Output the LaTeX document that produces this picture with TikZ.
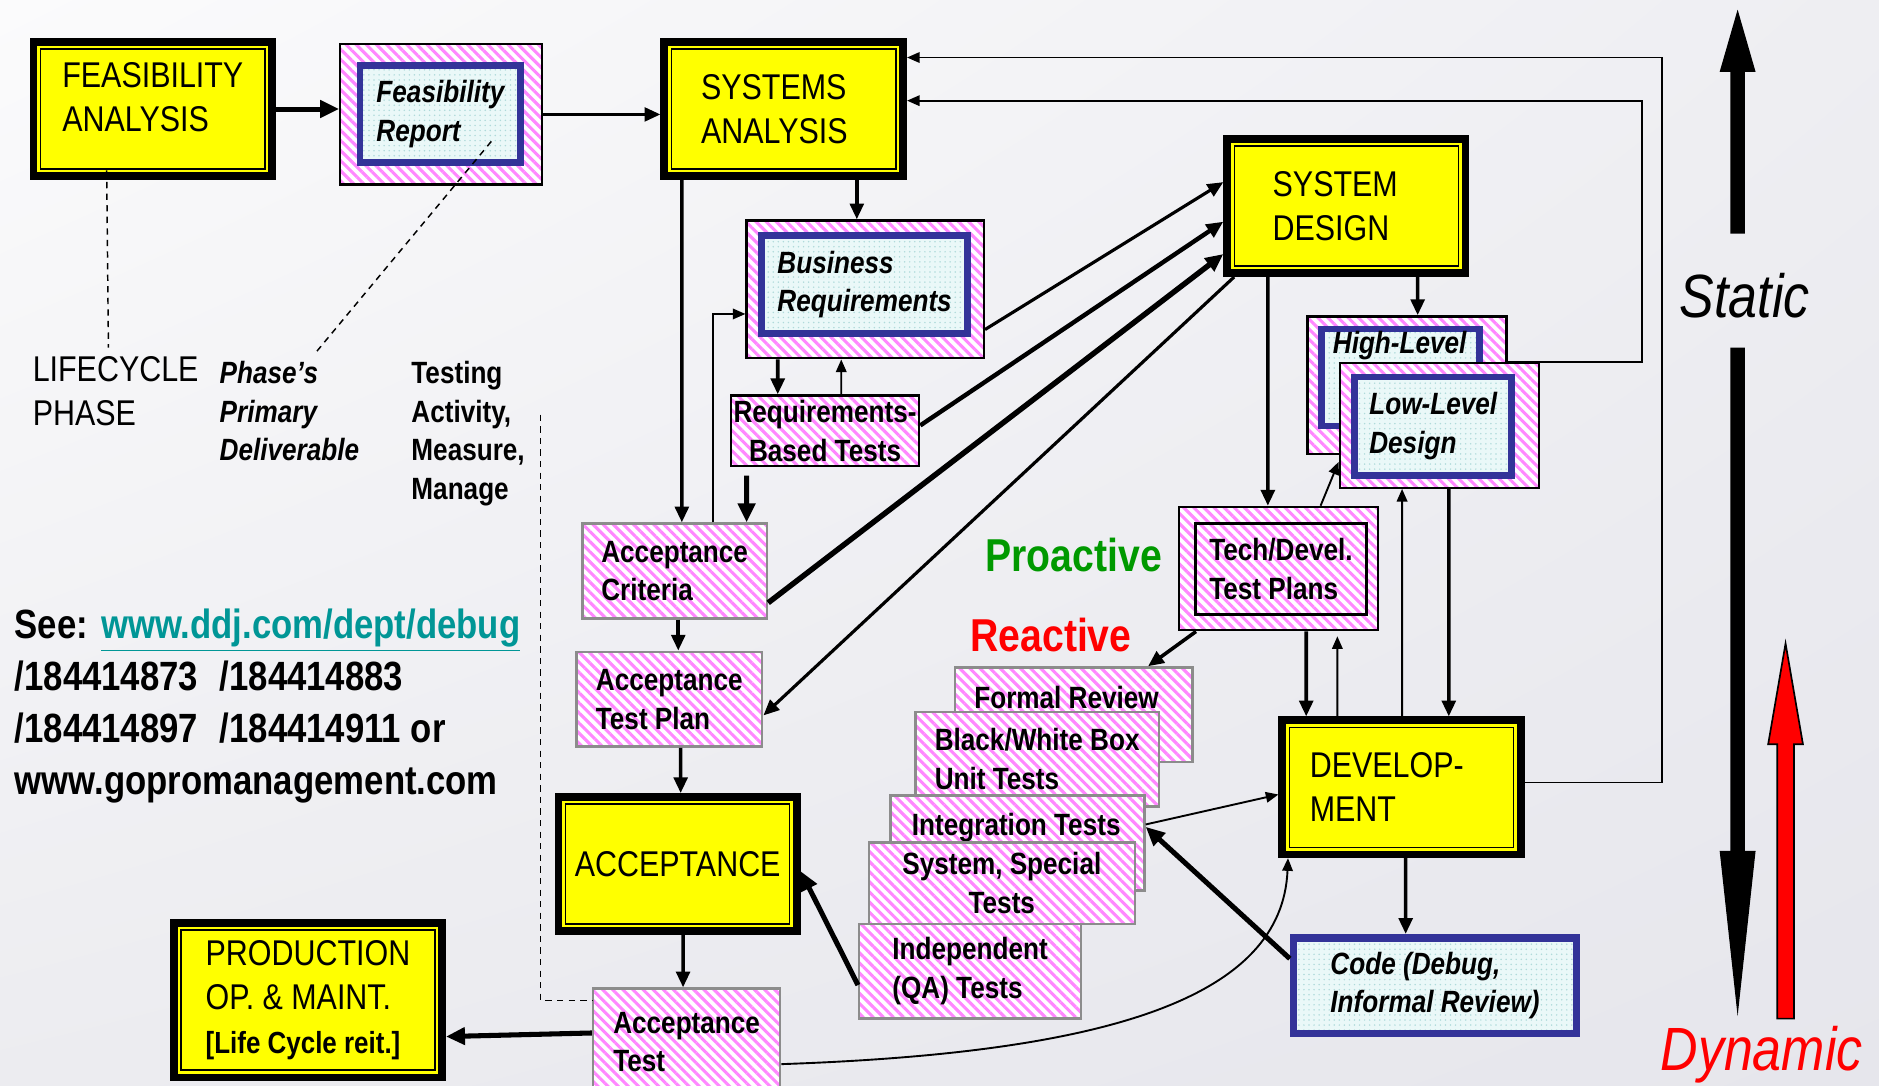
\documentclass[tikz,border=0pt]{standalone}
\usepackage{fontspec}
\setmainfont{Liberation Sans}[FakeStretch=0.85]
\usetikzlibrary{arrows.meta,patterns.meta,positioning,shadings}

\definecolor{phaseyellow}{RGB}{255,255,0}
\definecolor{stripepink}{RGB}{255,135,255}
\definecolor{docblue}{RGB}{51,51,153}
\definecolor{docfill}{RGB}{234,248,248}
\definecolor{docdots}{RGB}{175,218,218}
\definecolor{linkteal}{RGB}{0,150,150}
\definecolor{progreen}{RGB}{0,153,0}
\definecolor{boxgray}{RGB}{140,140,140}
\definecolor{bgul}{RGB}{251,251,252}
\definecolor{bgur}{RGB}{238,238,242}
\definecolor{bgll}{RGB}{236,236,240}
\definecolor{bglr}{RGB}{230,230,236}

\newcommand{\bigfont}{\fontsize{17}{21}\selectfont}
\newcommand{\boxfont}{\fontsize{14.6}{18.4}\selectfont}

\tikzset{
  phase/.style={draw=black, line width=3.6pt, fill=phaseyellow, inner sep=0pt,
    align=left, font=\bigfont,
    path picture={\draw[line width=0.7pt]
      ([shift={(3.4pt,-3.4pt)}]path picture bounding box.north west) rectangle
      ([shift={(-3.4pt,3.4pt)}]path picture bounding box.south east);}},
  striped/.style={preaction={fill=white},
    pattern={Lines[angle=-45,distance=3.4pt,line width=1.45pt]},
    pattern color=stripepink, inner sep=0pt},
  testbox/.style={striped, draw=boxgray, line width=1.2pt, align=left,
    font=\bfseries\boxfont},
  workbox/.style={striped, draw=black, line width=1.1pt, align=center,
    font=\bfseries\boxfont},
  docbox/.style={draw=docblue, line width=3.2pt, preaction={fill=docfill},
    pattern={Dots[distance=2.4pt,radius=0.4pt]}, pattern color=docdots,
    inner sep=0pt, align=left, font=\bfseries\itshape\boxfont},
  heavy/.style={line width=2.4pt, -{Triangle[length=9pt,width=8pt]}},
  flow/.style={line width=1.7pt, -{Triangle[length=7.5pt,width=6.5pt]}},
  feed/.style={line width=0.9pt, -{Triangle[length=6pt,width=5pt]}},
  guide/.style={line width=0.7pt, dash pattern=on 3pt off 2.5pt},
}

\begin{document}
\begin{tikzpicture}
\useasboundingbox (0,0) rectangle (31.36,18.12);
\shade[upper left=bgul, upper right=bgur, lower left=bgll, lower right=bglr] (0,0) rectangle (31.36,18.12);

\node[phase, minimum width=3.98cm, minimum height=2.24cm] (fa) at (2.55,16.3) {};
\node[font=\bigfont, align=left, inner sep=0pt] (fa-txt) at ([yshift=0.2cm]fa.center) {FEASIBILITY\\ANALYSIS};
\node[workbox, minimum width=3.36cm, minimum height=2.34cm] (fr) at (7.36,16.21) {};
\node[docbox, minimum width=2.68cm, minimum height=1.62cm] (fr-doc) at (7.35,16.22) {Feasibility\\Report};
\node[phase, minimum width=3.99cm, minimum height=2.24cm, text width=2.76cm] (sa) at (13.08,16.3) {SYSTEMS\\ANALYSIS};
\node[workbox, minimum width=3.96cm, minimum height=2.3cm] (br) at (14.44,13.29) {};
\node[docbox, minimum width=3.44cm, minimum height=1.64cm] (br-doc) at (14.43,13.37) {Business\\Requirements};
\node[workbox, minimum width=3.14cm, minimum height=1.18cm] (rbt) at (13.77,10.93) {Requirements-\\Based Tests};
\node[testbox, minimum width=3.08cm, minimum height=1.58cm] (ac) at (11.26,8.59) {Acceptance\\Criteria};
\node[testbox, minimum width=3.1cm, minimum height=1.58cm] (atp) at (11.17,6.45) {Acceptance\\Test Plan};
\node[phase, minimum width=3.98cm, minimum height=2.24cm] (acc) at (11.31,3.7) {ACCEPTANCE};
\node[testbox, minimum width=3.12cm, minimum height=1.78cm] (at) at (11.46,0.73) {Acceptance\\Test};
\node[phase, minimum width=4.48cm, minimum height=2.58cm] (prod) at (5.14,1.43) {PRODUCTION\\OP. \& MAINT.\\{\bfseries\fontsize{14.5}{18}\selectfont [Life Cycle reit.]}};

\node[phase, minimum width=3.98cm, minimum height=2.24cm, text width=2.46cm] (sd) at (22.47,14.68) {SYSTEM\\DESIGN};
\node[workbox, minimum width=3.32cm, minimum height=2.3cm] (hl) at (23.48,11.69) {};
\node[docbox, minimum width=2.64cm, minimum height=1.62cm] (hl-doc) at (23.37,11.82) {};
\node[font=\bfseries\itshape\boxfont, inner sep=0pt] (hl-txt) at (23.36,12.36) {High-Level};
\node[workbox, minimum width=3.32cm, minimum height=2.08cm] (ll) at (24.02,11.02) {};
\node[docbox, minimum width=2.62cm, minimum height=1.64cm] (ll-doc) at (23.92,11.01) {Low-Level\\Design};
\node[workbox, minimum width=3.32cm, minimum height=2.06cm] (tdtp) at (21.34,8.63) {};
\node[draw=black, line width=1.4pt, minimum width=2.84cm, minimum height=1.52cm, inner sep=0pt, align=left, font=\bfseries\boxfont] (tdtp-in) at (21.38,8.62) {Tech/Devel.\\Test Plans};
\node[phase, minimum width=3.98cm, minimum height=2.24cm, text width=3.06cm] (dev) at (23.39,4.98) {DEVELOP-\\MENT};
\node[docbox, line width=3.6pt, minimum width=4.72cm, minimum height=1.6cm] (code) at (23.95,1.67) {Code (Debug,\\Informal Review)};

\node[testbox, minimum width=3.96cm, minimum height=1.58cm] (frev) at (17.92,6.19) {};
\node[font=\bfseries\boxfont, inner sep=0pt] (frev-txt) at (17.8,6.48) {Formal Review};
\node[testbox, minimum width=4.06cm, minimum height=1.58cm] (bw) at (17.31,5.45) {Black/White Box\\Unit Tests};
\node[testbox, minimum width=4.24cm, minimum height=1.58cm] (it) at (16.98,4.05) {};
\node[font=\bfseries\boxfont, inner sep=0pt] (it-txt) at (16.96,4.3) {Integration Tests};
\node[testbox, align=center, minimum width=4.44cm, minimum height=1.36cm] (ss) at (16.72,3.38) {System, Special\\Tests};
\node[testbox, minimum width=3.7cm, minimum height=1.58cm] (indep) at (16.19,1.91) {Independent\\(QA) Tests};

\node[font=\bigfont, align=left, inner sep=0pt, anchor=north west] (lc) at (0.54,12.18) {LIFECYCLE\\PHASE};
\node[font=\bfseries\itshape\boxfont, align=left, inner sep=0pt, anchor=north west] (pd) at (3.66,12.1) {Phase’s\\Primary\\Deliverable};
\node[font=\bfseries\boxfont, align=left, inner sep=0pt, anchor=north west] (tam) at (6.86,12.1) {Testing\\Activity,\\Measure,\\Manage};
\node[font=\bfseries\fontsize{19.4}{24.6}\selectfont, align=left, inner sep=0pt, anchor=north west] (see) at (0.24,7.96) {See: \textcolor{linkteal}{\underline{www.ddj.com/dept/debug}}\\/184414873\hspace{0.36cm}/184414883\\/184414897\hspace{0.36cm}/184414911 or\\www.gopromanagement.com};
\node[font=\bfseries\fontsize{21.9}{26}\selectfont, text=progreen, inner sep=0pt] (pro) at (17.92,8.86) {Proactive};
\node[font=\bfseries\fontsize{21.9}{26}\selectfont, text=red, inner sep=0pt] (re) at (17.54,7.52) {Reactive};
\node[font=\itshape\fontsize{29}{34}\selectfont, inner sep=0pt] (static) at (29.12,13.18) {Static};
\node[font=\itshape\fontsize{29}{34}\selectfont, text=red, inner sep=0pt] (dyn) at (29.4,0.52) {Dynamic};

\draw[heavy] (fa.east) -- (fa.east -| fr.west);
\draw[line width=1.5pt, -{Triangle[length=7.5pt,width=6.5pt]}] (fr.east) -- (fr.east -| sa.west);
\draw[flow] ([xshift=1.22cm]sa.south) -- ([xshift=-0.14cm]br.north);
\draw[flow] ([xshift=-1.7cm]sa.south) -- ([xshift=0.12cm]ac.north);
\draw[flow] ([xshift=-1.46cm]br.south) -- ([xshift=-0.79cm]rbt.north);
\draw[feed] ([xshift=0.27cm]rbt.north) -- ([xshift=-0.4cm]br.south);
\draw[heavy] ([shift={(-1.31,-0.14)}]rbt.south) -- ([xshift=1.2cm]ac.north);
\draw[feed] ([xshift=0.64cm]ac.north) |- ([yshift=-0.41cm]br.west);
\draw[flow] ([xshift=0.06cm]ac.south) -- ([xshift=0.15cm]atp.north);
\draw[flow] ([xshift=0.19cm]atp.south) -- ([xshift=0.05cm]acc.north);
\draw[flow] ([xshift=0.09cm]acc.south) -- ([xshift=-0.06cm]at.north);
\draw[heavy] ([yshift=0.15cm]at.west) -- ([yshift=-0.61cm]prod.east);
\draw[feed] ([yshift=-0.37cm]at.east) .. controls (18.6,0.55) and (21.4,1.5) .. ([xshift=0.16cm]dev.south west);

\draw[line width=1.5pt, -{Triangle[length=7.5pt,width=6.5pt]}] ([yshift=-0.67cm]br.east) -- ([yshift=0.4cm]sd.west);
\draw[line width=2.1pt, -{Triangle[length=8pt,width=7pt]}] ([yshift=0.09cm]rbt.east) -- ([yshift=-0.26cm]sd.west);
\draw[line width=2.6pt, -{Triangle[length=8.5pt,width=7.5pt]}] ([yshift=-0.53cm]ac.east) -- ([yshift=-0.8cm]sd.west);
\draw[line width=1.5pt, -{Triangle[length=7.5pt,width=6.5pt]}] ([xshift=0.18cm]sd.south west) -- ([yshift=-0.27cm]atp.east);

\draw[flow] ([xshift=-1.31cm]sd.south) -- ([xshift=-0.18cm]tdtp.north);
\draw[flow] ([xshift=1.19cm]sd.south) -- ([xshift=0.18cm]hl.north);
\draw[feed] ([xshift=0.7cm]tdtp.north) -- ([yshift=0.45cm]ll.south west);
\draw[flow] ([xshift=0.46cm]tdtp.south) -- ([xshift=-1.59cm]dev.north);
\draw[feed] ([xshift=-1.07cm]dev.north) -- ([shift={(0.98,-0.08)}]tdtp.south);
\draw[feed] ([xshift=0.01cm]dev.north) -- ([xshift=-0.62cm]ll.south);
\draw[flow] ([xshift=0.16cm]ll.south) -- ([xshift=0.79cm]dev.north);
\draw[flow] ([xshift=0.07cm]dev.south) -- ([xshift=-0.49cm]code.north);
\draw[heavy] ([yshift=0.45cm]code.west) -- ([yshift=0.27cm]it.east);
\draw[feed] ([yshift=0.31cm]it.east) -- ([yshift=-0.12cm]dev.west);
\draw[flow] ([xshift=0.3cm]tdtp.south west) -- ([xshift=-0.76cm]frev.north east);
\draw[heavy] ([yshift=-0.23cm]indep.west) -- ([yshift=-0.12cm]acc.east);
\draw[feed] ([yshift=0.08cm]dev.east) -- ++(2.3,0) |- ([yshift=0.86cm]sa.east);
\draw[feed] ([yshift=0.39cm]hl.east) -- ++(2.24,0) |- ([yshift=0.14cm]sa.east);

\draw[guide] ([shift={(-0.77,0.16)}]fa.south) -- ([shift={(-0.12,0.14)}]lc.north);
\draw[guide] ([shift={(0.84,-0.45)}]fr.center) -- ([shift={(1.58,0.1)}]pd.north west);
\draw[guide] ([shift={(0.26,-0.9)}]tam.north east) |- ([yshift=0.69cm]at.west);

\fill (29,17.96) -- (29.3,16.92) -- (29.12,16.92) -- (29.12,14.22) -- (28.88,14.22) -- (28.88,16.92) -- (28.7,16.92) -- cycle;
\fill (29,1.16) -- (29.3,3.92) -- (29.12,3.92) -- (29.12,12.32) -- (28.88,12.32) -- (28.88,3.92) -- (28.7,3.92) -- cycle;
\filldraw[fill=red, draw=black, line width=0.8pt] (29.8,7.38) -- (30.09,5.7) -- (29.94,5.7) -- (29.94,1.12) -- (29.66,1.12) -- (29.66,5.7) -- (29.51,5.7) -- cycle;
\end{tikzpicture}
\end{document}
